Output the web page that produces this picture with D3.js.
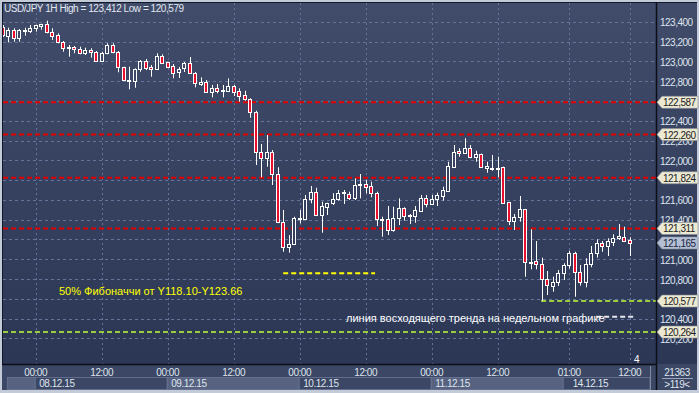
<!DOCTYPE html>
<html><head><meta charset="utf-8">
<script src="https://cdn.jsdelivr.net/npm/d3@7"></script>
<style>
body{margin:0;background:#c8d0dc;}
svg{display:block;}
text{font-family:"Liberation Sans",Arial,sans-serif;}
</style></head>
<body><svg id="c" width="699" height="393"></svg>
<script>
// ---- data ----
const opens  = [123.351,123.260,123.318,123.234,123.305,123.308,123.335,123.355,123.378,123.294,123.267,123.193,123.133,123.143,123.126,123.082,123.115,123.098,123.007,123.082,123.166,123.092,122.941,122.812,122.805,122.920,123.004,122.947,122.920,123.055,122.991,122.954,122.893,122.930,122.987,122.880,122.772,122.789,122.694,122.728,122.706,122.704,122.752,122.698,122.661,122.617,122.486,122.081,122.021,122.081,121.859,121.373,121.121,121.151,121.414,121.410,121.606,121.677,121.447,121.531,121.566,121.606,121.670,121.660,121.616,121.755,121.758,121.741,121.667,121.404,121.404,121.296,121.414,121.515,121.440,121.437,121.491,121.616,121.559,121.606,121.642,121.693,121.936,122.094,122.071,122.122,122.037,122.064,121.919,121.919,121.922,121.930,121.576,121.387,121.424,121.505,120.969,120.982,120.949,120.797,120.733,120.773,120.858,120.942,121.060,120.874,120.767,120.949,121.060,121.161,121.137,121.177,121.212,121.228,121.194];
const highs  = [123.368,123.341,123.335,123.328,123.341,123.368,123.370,123.380,123.412,123.335,123.284,123.206,123.166,123.156,123.149,123.139,123.133,123.105,123.098,123.183,123.183,123.105,122.947,122.947,122.930,123.014,123.025,122.964,123.082,123.072,122.997,122.974,122.944,122.994,123.045,122.893,122.839,122.812,122.762,122.772,122.762,122.829,122.762,122.728,122.704,122.627,122.502,122.165,122.256,122.104,121.930,121.498,121.245,121.430,121.498,121.650,121.741,121.723,121.582,121.572,121.667,121.700,121.700,121.683,121.818,121.862,121.801,121.784,121.683,121.430,121.538,121.531,121.616,121.525,121.457,121.538,121.650,121.650,121.650,121.673,121.733,121.986,122.155,122.122,122.223,122.155,122.097,122.068,121.986,122.054,122.037,121.936,121.580,121.457,121.639,121.509,121.303,121.184,121.016,120.881,120.824,120.891,120.959,121.086,121.076,120.942,121.010,121.134,121.202,121.184,121.212,121.252,121.356,121.329,121.222];
const lows   = [123.247,123.193,123.199,123.199,123.260,123.287,123.301,123.321,123.284,123.217,123.183,123.098,123.048,123.082,123.072,123.065,123.038,122.997,122.997,123.072,123.082,122.890,122.805,122.718,122.734,122.896,122.913,122.846,122.913,122.974,122.937,122.829,122.832,122.893,122.873,122.738,122.752,122.688,122.637,122.678,122.637,122.700,122.650,122.593,122.603,122.431,121.953,121.828,121.936,121.751,121.365,121.076,121.066,121.144,121.363,121.404,121.566,121.437,121.268,121.447,121.548,121.592,121.559,121.599,121.599,121.616,121.667,121.626,121.336,121.228,121.245,121.279,121.346,121.390,121.356,121.369,121.481,121.525,121.548,121.538,121.592,121.683,121.930,122.037,122.064,122.021,121.986,121.930,121.875,121.895,121.828,121.559,121.346,121.296,121.380,120.823,120.898,120.898,120.579,120.638,120.672,120.730,120.790,120.908,120.621,120.733,120.716,120.919,121.016,121.076,121.033,121.134,121.195,121.177,121.033];
const closes = [123.267,123.318,123.234,123.318,123.321,123.341,123.368,123.378,123.294,123.260,123.193,123.133,123.149,123.123,123.082,123.115,123.092,123.007,123.082,123.166,123.092,122.941,122.812,122.815,122.920,123.004,122.937,122.923,123.055,122.987,122.947,122.886,122.920,122.987,122.880,122.779,122.789,122.694,122.728,122.704,122.711,122.752,122.694,122.653,122.617,122.486,122.081,122.021,122.081,121.859,121.373,121.121,121.151,121.414,121.420,121.606,121.677,121.447,121.538,121.566,121.606,121.673,121.675,121.616,121.751,121.758,121.733,121.667,121.404,121.407,121.296,121.414,121.515,121.440,121.443,121.498,121.616,121.559,121.606,121.650,121.700,121.943,122.087,122.071,122.122,122.037,122.064,121.936,121.943,121.922,121.925,121.572,121.387,121.424,121.505,120.969,120.975,120.949,120.797,120.737,120.773,120.858,120.942,121.060,120.874,120.767,120.949,121.060,121.161,121.137,121.184,121.212,121.235,121.187,121.165];

const yTicks = [120.2,120.4,120.6,120.8,121.0,121.2,121.4,121.6,121.8,122.0,122.2,122.4,122.6,122.8,123.0,123.2,123.4];
const timeTickIdx    = [6,18,30,42,54,66,78,90,103,114];
const timeTickLabels = ["00:00","12:00","00:00","12:00","00:00","12:00","00:00","12:00","01:00","12:00"];
const dayStartIdx    = [1,6,30,54,78,102];
const dayLabelIdx    = [null,6,30,54,78,103];
const dayLabels      = ["","08.12.15","09.12.15","10.12.15","11.12.15","14.12.15"];
const redLevels   = [122.587,122.260,121.824,121.311];
const greenLevels = [{v:120.264,from:0},{v:120.577,from:97.9}];
const fibLevel = {v:120.858,from:51,to:67.7};
const trendSeg = {v:120.419,from:107.9,to:115};
const lastPrice = 121.165;
const titleText = "USD/JPY 1H High = 123,412 Low = 120,579";
const fibText = "50% Фибоначчи от Y118.10-Y123.66";
const trendText = "линия восходящего тренда на недельном графике";

// ---- layout ----
const svg = d3.select("#c");
const W=699,H=393, L=3, R=656, T=3, B=364;
const x = d3.scaleLinear().domain([0,114]).range([2.7,629.7]);
const y = d3.scaleLinear().domain([119.941,123.5907]).range([B,T]);
const fmt = v => d3.format(".3f")(v).replace(".",",");

const defs = svg.append("defs");
const g1 = defs.append("linearGradient").attr("id","bg").attr("gradientUnits","userSpaceOnUse")
  .attr("x1",0).attr("y1",0).attr("x2",0).attr("y2",B);
g1.append("stop").attr("offset",0).attr("stop-color","#404c6a");
g1.append("stop").attr("offset",1).attr("stop-color","#2c3756");
defs.append("clipPath").attr("id","plot").append("rect").attr("x",L).attr("y",T).attr("width",R-L).attr("height",B-T);

// frame
svg.append("rect").attr("width",W).attr("height",H).attr("fill","#c3cbd8");
svg.append("rect").attr("x",2).attr("y",2).attr("width",695).attr("height",B-2).attr("fill","url(#bg)");
svg.append("rect").attr("x",2).attr("y",B).attr("width",695).attr("height",390-B).attr("fill","#3b4764");
svg.append("line").attr("x1",2).attr("x2",697).attr("y1",2.5).attr("y2",2.5).attr("stroke","#111827");
svg.append("line").attr("x1",2.5).attr("x2",2.5).attr("y1",2).attr("y2",B).attr("stroke","#111827");

const plot = svg.append("g").attr("clip-path","url(#plot)");

// grid
plot.selectAll(".hg").data(yTicks).join("line")
  .attr("x1",L).attr("x2",R).attr("y1",d=>Math.round(y(d))+0.5).attr("y2",d=>Math.round(y(d))+0.5)
  .attr("stroke","#64739a").attr("stroke-dasharray","3,3").attr("stroke-width",1);
plot.selectAll(".vg").data(timeTickIdx).join("line")
  .attr("y1",T).attr("y2",B).attr("x1",d=>Math.round(x(d))+0.5).attr("x2",d=>Math.round(x(d))+0.5)
  .attr("stroke","#64739a").attr("stroke-dasharray","2,3").attr("stroke-width",1);

// levels
plot.selectAll(".rl").data(redLevels).join("line")
  .attr("x1",L).attr("x2",R).attr("y1",d=>y(d)).attr("y2",d=>y(d))
  .attr("stroke","#e00000").attr("stroke-width",2).attr("stroke-dasharray","5,3");
plot.selectAll(".gl").data(greenLevels).join("line")
  .attr("x1",d=>Math.max(L,x(d.from))).attr("x2",R).attr("y1",d=>y(d.v)).attr("y2",d=>y(d.v))
  .attr("stroke","#9ccc3c").attr("stroke-width",2).attr("stroke-dasharray","5,3");
plot.append("line").attr("x1",x(fibLevel.from)).attr("x2",x(fibLevel.to))
  .attr("y1",y(fibLevel.v)).attr("y2",y(fibLevel.v))
  .attr("stroke","#ffff00").attr("stroke-width",2).attr("stroke-dasharray","5,3");
plot.append("line").attr("x1",x(trendSeg.from)).attr("x2",x(trendSeg.to))
  .attr("y1",y(trendSeg.v)).attr("y2",y(trendSeg.v))
  .attr("stroke","#e6e6ee").attr("stroke-width",2).attr("stroke-dasharray","5,3");

// candles
const data = opens.map((o,i)=>({i,o,h:highs[i],l:lows[i],c:closes[i]}));
const cg = plot.append("g");
cg.selectAll(".wick").data(data).join("line")
  .attr("x1",d=>Math.round(x(d.i))+0.5).attr("x2",d=>Math.round(x(d.i))+0.5)
  .attr("y1",d=>y(d.h)).attr("y2",d=>y(d.l)).attr("stroke","#ffffff").attr("stroke-width",1);
cg.selectAll(".body").data(data).join("rect")
  .attr("x",d=>Math.round(x(d.i))-1.5).attr("width",3)
  .attr("y",d=>Math.round(y(Math.max(d.o,d.c)))+0.5)
  .attr("height",d=>Math.max(1,Math.round(y(Math.min(d.o,d.c)))-Math.round(y(Math.max(d.o,d.c)))))
  .attr("fill",d=>d.c<d.o?"#e8102c":"url(#bg)").attr("stroke","#ffffff").attr("stroke-width",1);

// annotations
plot.append("text").attr("x",59).attr("y",294.5).attr("fill","#ffff00").attr("font-size",11).text(fibText);
plot.append("text").attr("x",346).attr("y",322).attr("fill","#ffffff").attr("font-size",11).text(trendText);
plot.append("text").attr("x",634).attr("y",362.5).attr("fill","#ffffff").attr("font-size",10).text("4");

// title
svg.append("text").attr("x",4).attr("y",12).attr("fill","#e2e7ef").attr("font-size",10)
  .attr("letter-spacing","-0.45px").text(titleText);

// axes lines
svg.append("line").attr("x1",2).attr("x2",R).attr("y1",B+0.5).attr("y2",B+0.5).attr("stroke","#0c0f18").attr("stroke-width",1.5);
svg.append("line").attr("x1",R+0.5).attr("x2",R+0.5).attr("y1",2).attr("y2",390).attr("stroke","#0c0f18").attr("stroke-width",1.5);

// y axis labels (those fully covered by a price tag are not drawn, as in the reference)
const tagValues = redLevels.concat(greenLevels.map(d=>d.v), [lastPrice]);
const visibleTicks = yTicks.filter(t=>tagValues.every(v=>Math.abs(y(t)-y(v))>4));
svg.selectAll(".yl").data(visibleTicks).join("text")
  .attr("x",660).attr("y",d=>y(d)+4.5).attr("fill","#dfe5ef").attr("font-size",10)
  .attr("letter-spacing","-0.5px").text(d=>fmt(d));

// price tags
function tag(v,fill,tc){
  const yy=y(v), g=svg.append("g");
  g.append("path").attr("d",`M${R+1},${yy} L${R+6},${yy-6} L698,${yy-6} L698,${yy+6} L${R+6},${yy+6} Z`)
    .attr("fill",fill).attr("stroke","#8a8f9a").attr("stroke-width",0.6);
  g.append("text").attr("x",663).attr("y",yy+4).attr("fill",tc).attr("font-size",10)
    .attr("letter-spacing","-0.5px").text(fmt(v));
}
redLevels.forEach(v=>tag(v,"#ece9d2","#1b1b24"));
greenLevels.forEach(d=>tag(d.v,"#ece9d2","#1b1b24"));
tag(lastPrice,"#b4bfd4","#17233d");

// time axis
const dayBounds = dayStartIdx.map((d,k)=>({k, x0: k===0?7.3:x(d)-0.5, x1: k<dayStartIdx.length-1? x(dayStartIdx[k+1])-0.5 : 650}));
svg.selectAll(".db").data(dayBounds).join("rect")
  .attr("x",d=>d.x0).attr("y",377.5).attr("width",d=>d.x1-d.x0).attr("height",12)
  .attr("fill",d=>d.k%2===0?"#56627f":"#3b4764").attr("stroke","#6c7894").attr("stroke-width",0.8);
svg.selectAll(".tl").data(timeTickIdx).join("text")
  .attr("x",d=>x(d)).attr("y",376).attr("text-anchor","middle").attr("fill","#dfe5ef")
  .attr("font-size",10).attr("letter-spacing","-0.45px").text((d,i)=>timeTickLabels[i]);
svg.selectAll(".dl").data(dayLabelIdx.map((d,k)=>({d,k})).filter(o=>o.d!==null)).join("text")
  .attr("x",o=>x(o.d)+3.5).attr("y",387).attr("fill","#dfe5ef").attr("font-size",10)
  .attr("letter-spacing","-0.45px").text(o=>dayLabels[o.k]);
svg.append("line").attr("x1",650.5).attr("x2",650.5).attr("y1",366).attr("y2",390).attr("stroke","#7d8aa4");

// bottom-right box
svg.append("text").attr("x",677).attr("y",376).attr("text-anchor","middle").attr("fill","#dfe5ef").attr("font-size",10).attr("letter-spacing","-0.45px").text("21363");
svg.append("line").attr("x1",662).attr("x2",693).attr("y1",378.5).attr("y2",378.5).attr("stroke","#9aa6bc");
svg.append("text").attr("x",677).attr("y",388).attr("text-anchor","middle").attr("fill","#dfe5ef").attr("font-size",10).attr("letter-spacing","-0.45px").text(">119<");
</script></body></html>
